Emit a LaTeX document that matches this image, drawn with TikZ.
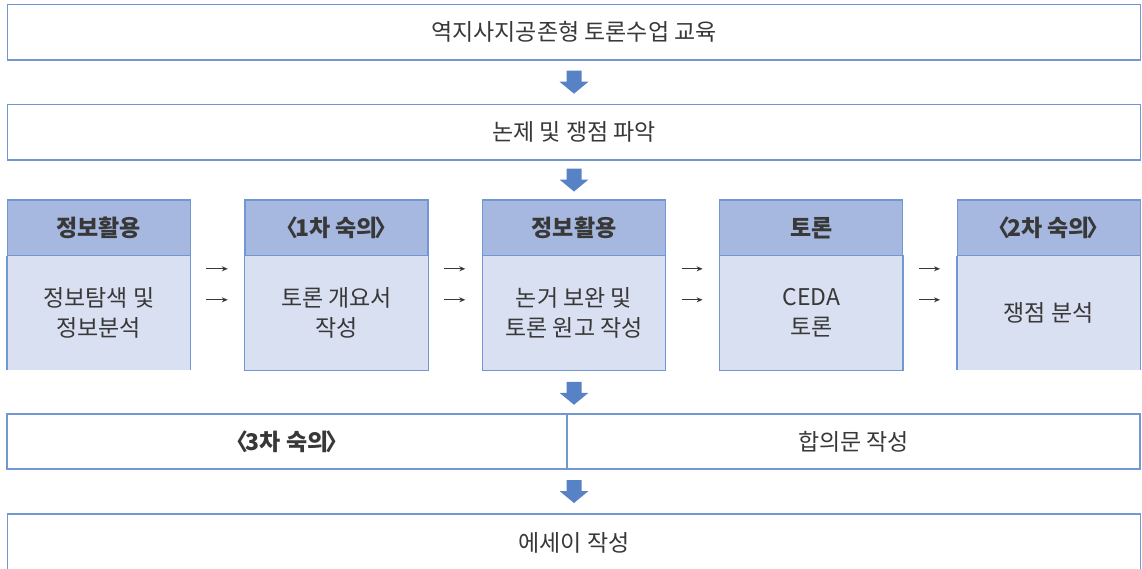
\documentclass[tikz,border=0pt]{standalone}
\usepackage{fontspec}
\setmainfont{Noto Sans CJK KR}
\usetikzlibrary{calc,arrows.meta}
\definecolor{hdr}{HTML}{A6B8DF}
\definecolor{bdy}{HTML}{D9E0F1}
\definecolor{brd}{HTML}{7198D2}
\definecolor{arr}{HTML}{5783C6}
\definecolor{txt}{HTML}{383838}
\newcommand{\lb}{\kern0.2em〈\kern-0.14em}
\newcommand{\rb}{\kern-0.14em〉\kern0.2em}
\tikzset{
  every node/.style={text=txt, font=\fontsize{23pt}{30pt}\selectfont, inner sep=0pt, align=center},
  wbox/.style={draw=brd, line width=1.4pt, fill=white},
  hbox/.style={fill=hdr, draw=brd, line width=1.2pt, minimum width=183pt, minimum height=56pt, font=\fontsize{23pt}{30pt}\selectfont\bfseries},
  bbox/.style={fill=bdy, minimum width=183pt, minimum height=114pt},
  bline/.style={draw=brd, line width=1.2pt},
  smallarr/.style={draw=txt, line width=1.1pt, -{Stealth[length=6pt,width=5pt]}},
}
\newcommand{\blockarrow}[1]{%
  \fill[arr] ($(#1)+(-7.5,-11.5)$) -- ($(#1)+(7.5,-11.5)$) -- ($(#1)+(7.5,-0.5)$) -- ($(#1)+(14.5,-0.5)$)
    -- ($(#1)+(0,11.5)$) -- ($(#1)+(-14.5,-0.5)$) -- ($(#1)+(-7.5,-0.5)$) -- cycle;}
\begin{document}
\begin{tikzpicture}[x=1pt,y=-1pt]
\useasboundingbox (0,0) rectangle (1142,569);
% top rows
\node[wbox, minimum width=1133pt, minimum height=55.5pt] (top) at (574,32.2) {역지사지공존형 토론수업 교육};
\node[wbox, minimum width=1133pt, minimum height=55.5pt] (issue) at (574,132.2) {논제 및 쟁점 파악};
% columns
\foreach \i/\cx/\h in {1/98.7/정보활용, 2/336.5/\lb1차 숙의\rb, 3/574/정보활용, 4/811.3/토론, 5/1048.7/\lb2차 숙의\rb}{
  \node[hbox] (h\i) at (\cx,228) {\h};
  \node[bbox] (b\i) at (\cx,313) {};
}
\node at (b1) {정보탐색 및\\정보분석};
\node at (b2) {토론 개요서\\작성};
\node at (b3) {논거 보완 및\\토론 원고 작성};
\node at (b4) {CEDA\\토론};
\node at (b5) {쟁점 분석};
% body borders
\draw[bline] (b1.north west) -- (b1.south west) (b1.north east) -- (b1.south east);
\draw[bline] (b2.north west) rectangle (b2.south east);
\draw[bline] (b3.north west) rectangle (b3.south east);
\draw[bline] (b4.north west) rectangle (b4.south east);
\draw[bline] (b5.north west) -- (b5.south west) (b5.north east) -- (b5.south east);
% small arrows
\foreach \a/\b in {1/2,2/3,3/4,4/5}{
  \draw[smallarr] ($(b\a.north east)+(16,13)$) -- ($(b\b.north west)+(-17,13)$);
  \draw[smallarr] ($(b\a.north east)+(16,44)$) -- ($(b\b.north west)+(-17,44)$);
}
% third row
\node[wbox, minimum width=560pt, minimum height=55pt, font=\fontsize{23pt}{30pt}\selectfont\bfseries] (delib) at (287,441.5) {\lb3차 숙의\rb};
\node[wbox, minimum width=573pt, minimum height=55pt] (agree) at (853.5,441.5) {합의문 작성};
% essay
\node[wbox, minimum width=1133pt, minimum height=62pt] (essay) at (574,545) {};
\node at (574,543) {에세이 작성};
% block arrows
\coordinate (m1) at ($(top.south)!0.5!(issue.north)$);
\coordinate (m2) at ($(issue.south)!0.5!(h3.north)$);
\coordinate (m3) at ($(b3.south)!0.5!(b3.south |- delib.north)+(0,1.5)$);
\coordinate (m4) at ($(essay.north |- delib.south)!0.5!(essay.north)$);
\blockarrow{m1}
\blockarrow{m2}
\blockarrow{m3}
\blockarrow{m4}
\end{tikzpicture}
\end{document}
